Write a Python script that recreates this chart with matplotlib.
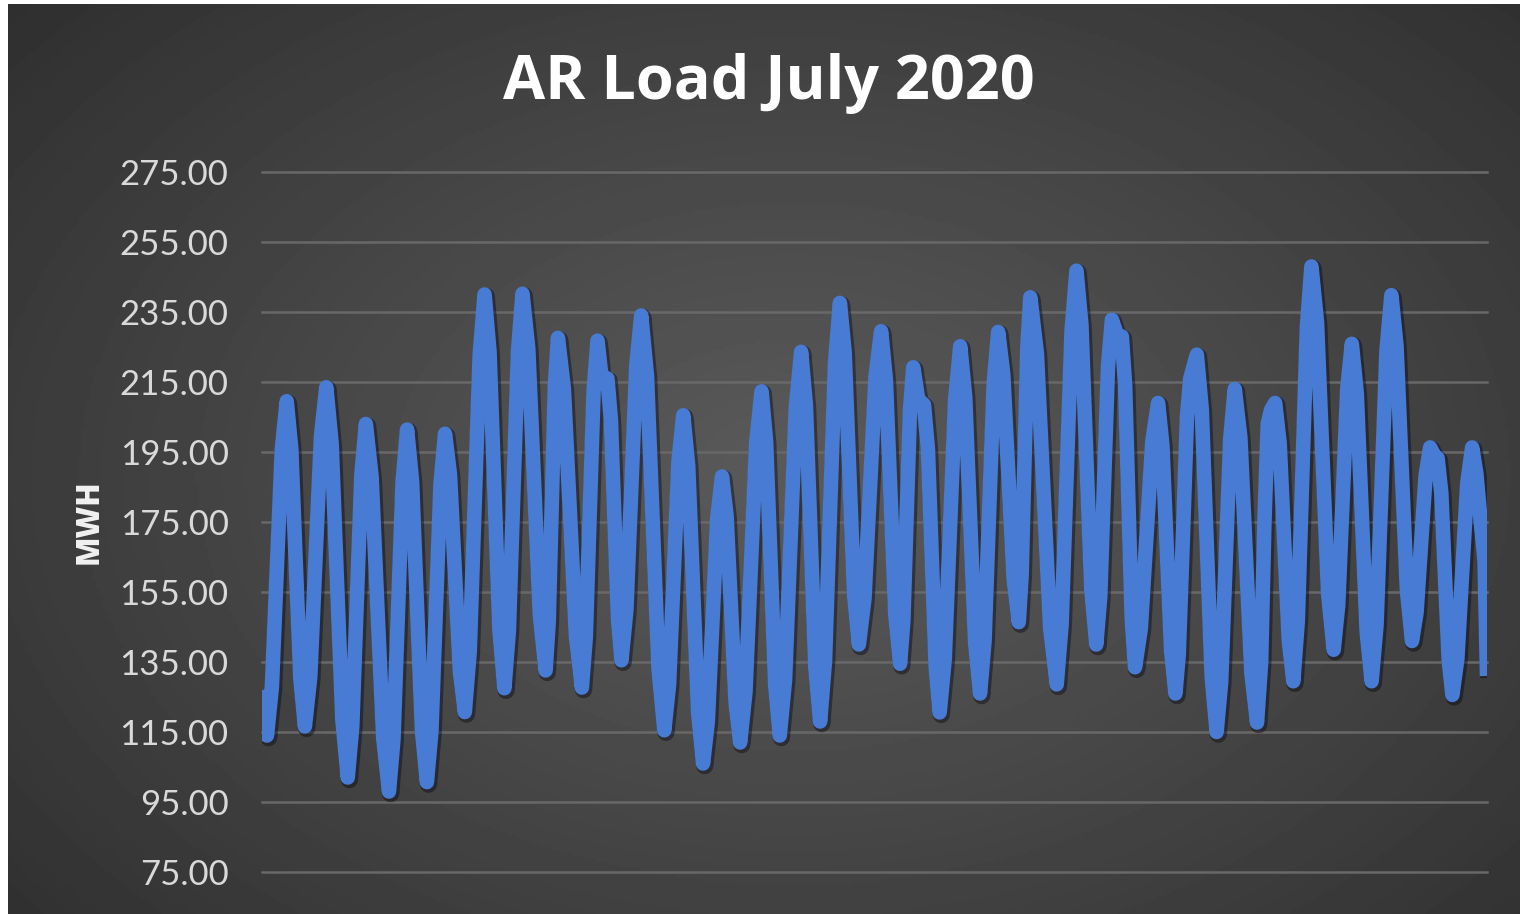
import numpy as np
import matplotlib.pyplot as plt
import matplotlib.patheffects as pe

# hourly load for July 2020 (peaks, troughs and a few points in between)
hours = [
    0, 3, 6, 9, 12, 15, 17.75, 20.5, 23.25,
    26, 29.25, 32.5, 35.75, 39, 42.25, 45.5, 48.75,
    52, 54.75, 57.5, 60.25, 63, 66.5, 70, 73.5,
    77, 79.75, 82.5, 85.25, 88, 91, 94, 97,
    100, 102.75, 105.5, 108.25, 111, 114, 117, 120,
    123, 126, 129, 132, 135, 138, 141, 144,
    147, 149.75, 152.5, 155.25, 158, 161.5, 165, 168.5,
    172, 173.9, 175.75, 177.6, 179.5, 183.1, 186.75, 190.4,
    194, 196.4, 198.75, 201.1, 203.5, 206, 209.5, 211.6, 213.75, 215.9,
    218, 221, 224, 227, 230, 233.5, 237, 240.5,
    244, 246.9, 249.75, 252.6, 255.5, 258.5, 261.5, 264.5,
    267.5, 270.4, 273.25, 276.1, 279, 281.75, 284.5, 287.25,
    290, 293.25, 296.5, 299.75, 303, 305.75, 308.5, 311.25,
    314, 317.25, 320.5, 323.75, 327, 329.9, 332.75, 335.6,
    338.5, 341.5, 344.5, 347.5, 350.5, 353.4, 356.25, 359.1,
    362, 365.4, 368.75, 372.1, 375.5, 378.4, 381.25, 384.1,
    387, 389, 391, 393, 395, 398, 401.5, 403.9, 406.25, 408.6,
    411, 414.1, 417.25, 420.4, 423.5, 426.5, 429.5, 432.5,
    435.5, 438.25, 441, 443.75, 446.5, 449.6, 452.75, 455.9,
    459, 460.75, 462.5, 464.25, 466, 470, 474, 478,
    482, 485, 488, 491, 494, 497, 500, 503,
    506, 508.4, 510.75, 513.1, 515.5, 518.5, 521.5, 523.5, 525.5, 527.5,
    529.5, 533, 536.5, 540, 543.5, 546.1, 548.75, 551.4,
    554, 556, 558.5, 561, 563, 567, 570, 573, 576,
    579, 581.75, 584.5, 587.25, 590, 593.4, 596.75, 600.1,
    603.5, 606, 608, 610, 612, 614.5, 617.25, 620, 622.75,
    625.5, 628.25, 631, 633.75, 636.5, 639.9, 643.25, 646.6,
    650, 652.75, 655.5, 658.25, 661, 664, 667, 670,
    673, 676, 679, 682, 685, 688.1, 691.25, 694.4,
    697.5, 700.25, 703, 705.75, 708.5, 711, 713, 715.25, 717.5, 719.75,
    722, 725, 728, 731, 734, 736.5, 739, 741.5, 743,
]
load_mwh = [
    127, 114, 127.9, 161.8, 195.6, 209.5, 195.9, 163.1, 130.2,
    116.6, 130.7, 165.1, 199.4, 213.5, 197.2, 157.8, 118.3,
    102, 116.7, 152.5, 188.3, 203, 187.7, 150.5, 113.3,
    98, 113.1, 149.7, 186.3, 201.4, 186.7, 151.1, 115.4,
    100.7, 115.2, 150.5, 185.7, 200.2, 188.6, 160.5, 132.3,
    120.7, 138.1, 180.4, 222.6, 240, 223.6, 183.8, 143.9,
    127.5, 144.0, 183.9, 223.7, 240.2, 224.5, 186.4, 148.3,
    132.6, 146.5, 180.1, 213.7, 227.6, 213.0, 177.7, 142.3,
    127.7, 142.2, 177.3, 212.3, 226.8, 216, 216, 204.2, 175.8, 147.3,
    135.5, 149.9, 184.8, 219.6, 234, 216.7, 174.8, 132.8,
    115.5, 128.6, 160.5, 192.4, 205.5, 191.0, 155.8, 120.5,
    106, 118.0, 147, 176.0, 188, 176.9, 150, 123.1,
    112, 126.6, 162.2, 197.7, 212.3, 197.9, 163.2, 128.4,
    114, 130.0, 168.8, 207.6, 223.6, 208.2, 170.8, 133.4,
    118, 135.5, 177.8, 220.1, 237.6, 223.4, 188.8, 154.2,
    140, 153.1, 184.8, 216.4, 229.5, 215.6, 182, 148.4,
    134.5, 146.9, 176.9, 206.8, 219.2, 210, 208.5, 195.7, 164.6, 133.4,
    120.6, 135.9, 172.9, 209.9, 225.2, 210.7, 175.6, 140.5,
    126, 141.1, 177.7, 214.2, 229.3, 217.2, 187.9, 158.5,
    146.4, 160.0, 192.8, 225.6, 239.2, 223.1, 183.9, 144.7,
    128.6, 145.9, 187.7, 229.5, 246.8, 231.2, 193.4, 155.6,
    140, 153.5, 186.4, 219.3, 232.8, 228.5, 228, 214.2, 180.8, 147.3,
    133.5, 144.5, 171.3, 198.0, 209, 196.9, 167.5, 138.1,
    126, 137, 170, 205, 216, 222.8, 207.1, 168.9, 130.7,
    115, 129.3, 164, 198.7, 213, 199.1, 165.4, 131.6,
    117.7, 135, 175, 203, 207, 209, 197.4, 169.3, 141.1,
    129.5, 146.8, 188.8, 230.7, 248, 232.0, 193.3, 154.5,
    138.5, 151.3, 182.2, 213.1, 225.9, 211.8, 177.7, 143.6,
    129.5, 145.6, 184.7, 223.7, 239.8, 225.4, 190.4, 155.4,
    141, 149.1, 168.7, 188.2, 196.3, 194, 193.3, 183.4, 159.5, 135.5,
    125.6, 135.9, 161, 186.0, 196.3, 189, 176, 164, 131,
]
y_ticks = [75, 95, 115, 135, 155, 175, 195, 215, 235, 255, 275]
title = 'AR Load July 2020'
y_title = 'MWH'

assert len(hours) == len(load_mwh)

W, H = 1526, 914
fig = plt.figure(figsize=(W / 100, H / 100), dpi=100, facecolor='white')

# dark radial background like the Excel chart style
bg = fig.add_axes([8 / W, 0, 1512 / W, 910 / H])
gy, gx = np.mgrid[0:1:300j, 0:1:500j]
r = np.sqrt(((gx - 0.52) / 0.75) ** 2 + ((gy - 0.52) / 0.85) ** 2)
shade = np.clip(1 - r, 0, 1) ** 0.9
img = 0.165 + (0.355 - 0.165) * shade
bg.imshow(img, extent=[0, 1, 0, 1], aspect='auto', cmap='gray', vmin=0, vmax=1, origin='upper')
bg.axis('off')

ax = fig.add_axes([262 / W, 42 / H, 1225 / W, 700 / H])
ax.patch.set_alpha(0)
ax.plot(hours, load_mwh, color='#487BD3', lw=10.5, solid_joinstyle='round', solid_capstyle='butt',
        path_effects=[pe.Stroke(offset=(1.2, -1.5), linewidth=12.5, foreground='#0a0a14', alpha=0.45),
                      pe.Normal()])

ax.set_xlim(0, 743)
ax.set_ylim(75, 275)
ax.set_yticks(y_ticks)
ax.set_yticklabels([f'{v:.2f}' for v in y_ticks], fontsize=25, color='#d9d9d9', family='Lato')
ax.set_xticks([])
ax.tick_params(axis='y', length=0, pad=24)
ax.grid(axis='y', color='#686868', lw=1.8)
ax.set_axisbelow(True)
for gl in ax.get_ygridlines():
    gl.set_clip_on(False)
for s in ax.spines.values():
    s.set_visible(False)

ax.set_ylabel(y_title, fontsize=22, fontweight='heavy', color='#f2f2f2', family='Open Sans')
ax.yaxis.set_label_coords(-0.128, 0.5)

fig.text(769 / W, 1 - 84 / H, title, ha='center', va='center', fontsize=44,
         fontweight='bold', color='white', family='Open Sans')

fig.savefig('out.png', dpi=100, facecolor=fig.get_facecolor())
